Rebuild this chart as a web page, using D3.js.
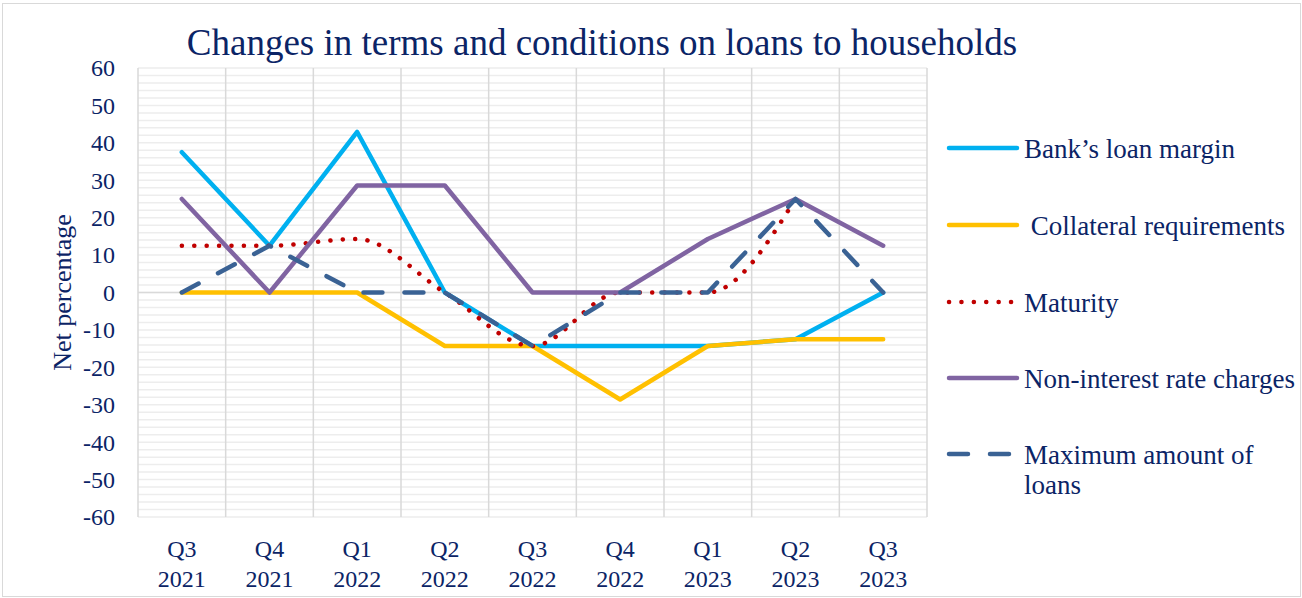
<!DOCTYPE html>
<html>
<head>
<meta charset="utf-8">
<script src="https://cdn.jsdelivr.net/npm/d3@7"></script>
<style>
  body { margin: 0; background: #fff; }
  text { font-family: "Times New Roman", "Liberation Serif", serif; fill: #0b2466; }
</style>
</head>
<body>
<div id="chart"></div>
<script>
// Quarters on the x axis (two-line labels)
const quarters = ["Q3", "Q4", "Q1", "Q2", "Q3", "Q4", "Q1", "Q2", "Q3"];
const years = ["2021", "2021", "2022", "2022", "2022", "2022", "2023", "2023", "2023"];
const yTicks = [60, 50, 40, 30, 20, 10, 0, -10, -20, -30, -40, -50, -60];

// Net percentages
const bankMargin = [37.5, 12.5, 42.9, 0, -14.3, -14.3, -14.3, -12.5, 0];
const collateral = [0, 0, 0, -14.3, -14.3, -28.6, -14.3, -12.5, -12.5];
const maturity = [12.5, 12.5, 14.3, 0, -14.3, 0, 0, 25, null];
const nonInterest = [25, 0, 28.6, 28.6, 0, 0, 14.3, 25, 12.5];
const maxAmount = [0, 12.5, 0, 0, -14.3, 0, 0, 25, 0];

const seriesNames = [
  "Bank\u2019s loan margin",
  " Collateral requirements",
  "Maturity",
  "Non-interest rate charges",
  "Maximum amount of loans"
];

const width = 1302;
const height = 598;
const plot = { left: 138, right: 927, top: 68, bottom: 517 };

const svg = d3.select("#chart")
  .append("svg")
  .attr("width", width)
  .attr("height", height);

svg.append("rect")
  .attr("x", 2.5).attr("y", 3.5)
  .attr("width", width - 4).attr("height", height - 5)
  .attr("fill", "#fff")
  .attr("stroke", "#d9d9d9");

const x = d3.scaleBand()
  .domain(d3.range(quarters.length))
  .range([plot.left, plot.right]);
const y = d3.scaleLinear()
  .domain([-60, 60])
  .range([plot.bottom, plot.top]);

const cx = (i) => x(i) + x.bandwidth() / 2;

// minor horizontal gridlines every 2 units
const grid = svg.append("g");
grid.selectAll(".minor")
  .data(d3.range(-60, 61, 2))
  .enter()
  .append("line")
  .attr("x1", plot.left).attr("x2", plot.right)
  .attr("y1", (d) => y(d)).attr("y2", (d) => y(d))
  .attr("stroke", "#ededed")
  .attr("stroke-width", 1.5);

// vertical gridlines at band edges
grid.selectAll(".vert")
  .data(d3.range(quarters.length + 1))
  .enter()
  .append("line")
  .attr("x1", (d) => plot.left + d * x.bandwidth())
  .attr("x2", (d) => plot.left + d * x.bandwidth())
  .attr("y1", plot.top).attr("y2", plot.bottom)
  .attr("stroke", "#d9d9d9")
  .attr("stroke-width", 1.5);

// zero axis line
grid.append("line")
  .attr("x1", plot.left).attr("x2", plot.right)
  .attr("y1", y(0)).attr("y2", y(0))
  .attr("stroke", "#d9d9d9")
  .attr("stroke-width", 1.5);

// y tick labels
svg.append("g")
  .selectAll("text")
  .data(yTicks)
  .enter()
  .append("text")
  .attr("x", 115)
  .attr("y", (d) => y(d))
  .attr("dy", "0.35em")
  .attr("text-anchor", "end")
  .style("font-size", "24px")
  .text((d) => d);

// x tick labels
const xl = svg.append("g")
  .selectAll("text")
  .data(quarters)
  .enter()
  .append("text")
  .attr("text-anchor", "middle")
  .style("font-size", "24px");
xl.append("tspan").attr("x", (d, i) => cx(i)).attr("y", 557).text((d) => d);
xl.append("tspan").attr("x", (d, i) => cx(i)).attr("y", 587).text((d, i) => years[i]);

// y axis title
svg.append("text")
  .attr("transform", `translate(71,${(plot.top + plot.bottom) / 2}) rotate(-90)`)
  .attr("text-anchor", "middle")
  .style("font-size", "26px")
  .text("Net percentage");

// chart title
svg.append("text")
  .attr("x", 602)
  .attr("y", 55)
  .attr("text-anchor", "middle")
  .style("font-size", "37px")
  .text("Changes in terms and conditions on loans to households");

const series = [
  { name: seriesNames[0], values: bankMargin, color: "#00b0f0", width: 4.5, dash: null, curve: d3.curveLinear },
  { name: seriesNames[1], values: collateral, color: "#ffc000", width: 4.5, dash: null, curve: d3.curveLinear },
  { name: seriesNames[2], values: maturity, color: "#c00000", width: 4.5, dash: "0.1,12.3", curve: d3.curveMonotoneX },
  { name: seriesNames[3], values: nonInterest, color: "#8064a2", width: 4.5, dash: null, curve: d3.curveLinear },
  { name: seriesNames[4], values: maxAmount, color: "#3a6294", width: 4.5, dash: "19,22", curve: d3.curveLinear }
];

const lines = svg.append("g");
series.forEach((s) => {
  const line = d3.line()
    .defined((d) => d != null)
    .x((d, i) => cx(i))
    .y((d) => y(d))
    .curve(s.curve);
  lines.append("path")
    .datum(s.values)
    .attr("d", line)
    .attr("fill", "none")
    .attr("stroke", s.color)
    .attr("stroke-width", s.width)
    .attr("stroke-linecap", "round")
    .attr("stroke-linejoin", "round")
    .attr("stroke-dasharray", s.dash);
});

// legend
const legendRows = [148, 225, 302, 378, 454];
const legend = svg.append("g");
series.forEach((s, i) => {
  legend.append("line")
    .attr("x1", 949).attr("x2", 1017)
    .attr("y1", legendRows[i]).attr("y2", legendRows[i])
    .attr("stroke", s.color)
    .attr("stroke-width", s.width)
    .attr("stroke-linecap", "round")
    .attr("stroke-dasharray", s.dash);
  const t = legend.append("text")
    .attr("x", 1024)
    .attr("y", legendRows[i] + 10)
    .style("font-size", "27px")
    .style("white-space", "pre");
  if (i === 4) {
    t.append("tspan").attr("x", 1024).text("Maximum amount of");
    t.append("tspan").attr("x", 1024).attr("dy", 30).text("loans");
  } else {
    t.text(s.name);
  }
});
</script>
</body>
</html>
